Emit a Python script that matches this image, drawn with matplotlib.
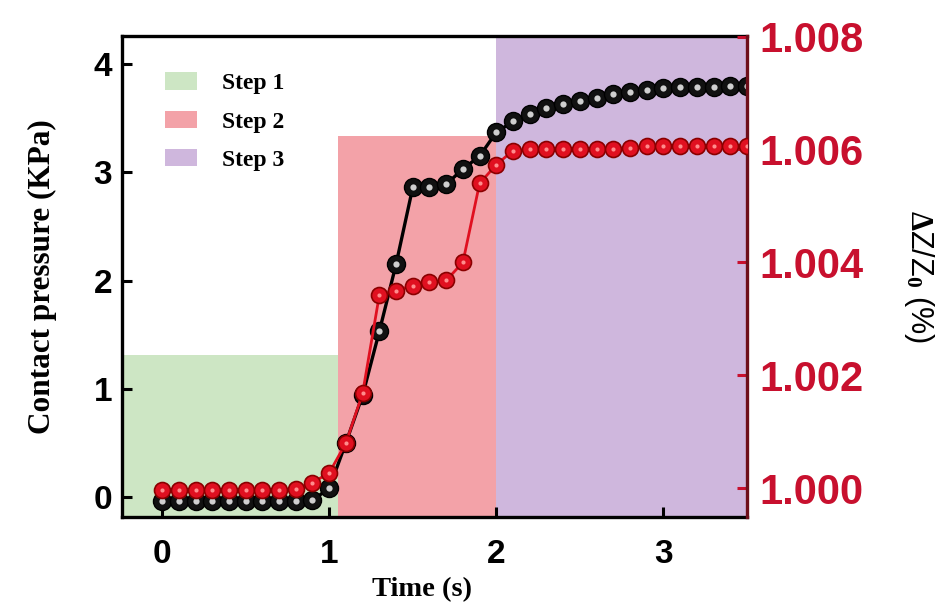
import numpy as np
import matplotlib.pyplot as plt
from matplotlib.patches import Patch
from matplotlib.ticker import FormatStrFormatter

plt.rcParams['font.family'] = 'Liberation Sans'
plt.rcParams['font.weight'] = 'bold'
plt.rcParams['mathtext.fontset'] = 'custom'
plt.rcParams['mathtext.rm'] = 'Liberation Serif:bold'
plt.rcParams['mathtext.it'] = 'Liberation Serif:bold'
plt.rcParams['mathtext.bf'] = 'Liberation Serif:bold'

# data
time = [0.0, 0.1, 0.2, 0.3, 0.4, 0.5, 0.6, 0.7, 0.8, 0.9,
        1.0, 1.1, 1.2, 1.3, 1.4, 1.5, 1.6, 1.7, 1.8, 1.9,
        2.0, 2.1, 2.2, 2.3, 2.4, 2.5, 2.6, 2.7, 2.8, 2.9,
        3.0, 3.1, 3.2, 3.3, 3.4, 3.5]
pressure = [-0.04, -0.04, -0.04, -0.04, -0.04, -0.04, -0.04, -0.04, -0.04, -0.03,
            0.08, 0.50, 0.94, 1.53, 2.15, 2.86, 2.86, 2.89, 3.03, 3.15,
            3.37, 3.47, 3.54, 3.59, 3.63, 3.66, 3.69, 3.72, 3.74, 3.76,
            3.78, 3.79, 3.79, 3.79, 3.80, 3.80]
ratio = [0.99997, 0.99997, 0.99997, 0.99997, 0.99997, 0.99997, 0.99997, 0.99997, 0.99998, 1.00010,
         1.00027, 1.00080, 1.00168, 1.00342, 1.00350, 1.00359, 1.00365, 1.00368, 1.00400, 1.00540,
         1.00573, 1.00598, 1.00600, 1.00600, 1.00600, 1.00600, 1.00600, 1.00600, 1.00602, 1.00606,
         1.00607, 1.00607, 1.00607, 1.00607, 1.00607, 1.00607]

steps = ['Step 1', 'Step 2', 'Step 3']
step_start = [-0.3, 1.05, 2.0]
step_end = [1.05, 2.0, 3.6]
step_top = [1.31, 3.34, 4.5]
step_colors = ['#cde6c4', '#f3a2a8', '#cfb7dd']

left_ticks = [0, 1, 2, 3, 4]
time_ticks = [0, 1, 2, 3]
right_ticks = [1.000, 1.002, 1.004, 1.006, 1.008]

red = '#e01020'
label_red = '#c8102e'

fig = plt.figure(figsize=(9.39, 6.08), dpi=100)
ax = fig.add_axes([0.1299, 0.1497, 0.6656, 0.7911])
ax2 = ax.twinx()

ybot = -0.185
for s, e, top, c in zip(step_start, step_end, step_top, step_colors):
    ax.bar(s, top - ybot + 0.5, width=e - s, bottom=ybot - 0.5, align='edge',
           color=c, lw=0, zorder=0)

# black spheres
ax.plot(time, pressure, '-', color='black', lw=2.4, marker='o', ms=13,
        mfc='#111111', mec='black', zorder=3)
ax.plot(time, pressure, 'o', ms=4.5, color='#cfcfcf', mec='none', zorder=4)

# red spheres
ax2.plot(time, ratio, '-', color=red, lw=2.0, marker='o', ms=11.5,
         mfc=red, mec='#8a0000', mew=1.2, zorder=3)
ax2.plot(time, ratio, 'o', ms=3, color='#ff8c8c', mec='none', zorder=4)

ax.set_xlim(-0.24, 3.5)
ax.set_ylim(ybot, 4.26)
ax2.set_ylim(0.99949, 1.00801)

ax.set_xticks(time_ticks)
ax.set_yticks(left_ticks)
ax2.set_yticks(right_ticks)
ax2.yaxis.set_major_formatter(FormatStrFormatter('%.3f'))

ax.tick_params(direction='in', length=7, width=2.2, labelsize=24)
ax.tick_params(axis='x', pad=16)
ax.tick_params(axis='y', pad=7)
ax2.tick_params(axis='y', direction='in', length=7, width=2.2,
                colors=label_red, labelsize=30, pad=9)

for sp in ax.spines.values():
    sp.set_linewidth(2.4)
ax.spines['right'].set_visible(False)
for name, sp in ax2.spines.items():
    sp.set_linewidth(2.4)
    if name != 'right':
        sp.set_visible(False)
ax2.spines['right'].set_color('#6e0f1a')

ax.set_ylabel('Contact pressure (KPa)', fontfamily='Liberation Serif',
              fontsize=22.5, fontweight='bold', va='center')
ax.yaxis.set_label_coords(-0.128, 0.5)
ax.set_xlabel('Time (s)', fontfamily='Liberation Serif', fontsize=20.5,
              fontweight='bold', va='center')
ax.xaxis.set_label_coords(0.48, -0.152)
ax2.set_ylabel(r'$\Delta$Z/Z$_0$ (%)', fontsize=22, rotation=270, va='center')
ax2.yaxis.set_label_coords(1.276, 0.5)

handles = [Patch(facecolor=c, edgecolor='none') for c in step_colors]
ax.legend(handles, steps, loc='upper left', bbox_to_anchor=(0.069, 0.925),
          frameon=False, borderpad=0, borderaxespad=0,
          prop={'family': 'Liberation Serif', 'weight': 'bold', 'size': 17},
          handlelength=1.36, handleheight=0.76, handletextpad=1.05,
          labelspacing=0.7)

fig.savefig('out.png', dpi=100)
